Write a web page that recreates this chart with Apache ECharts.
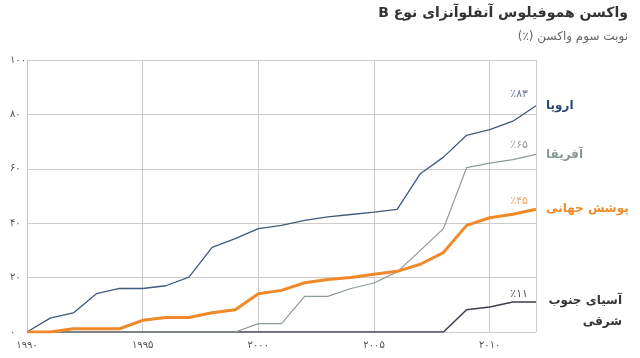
<!DOCTYPE html>
<html>
<head>
<meta charset="utf-8">
<script src="https://cdn.jsdelivr.net/npm/echarts@6/dist/echarts.min.js"></script>
<style>html,body{margin:0;padding:0;background:#fff}#c{width:640px;height:358px}</style>
</head>
<body>
<div id="c"></div>
<script>
var years = [1990,1991,1992,1993,1994,1995,1996,1997,1998,1999,2000,2001,2002,2003,2004,2005,2006,2007,2008,2009,2010,2011,2012];
var europe = [0,5.1,7.0,14.1,16.0,16.0,17.0,20.2,31.1,34.3,38.0,39.2,41.0,42.3,43.2,44.1,45.1,58.2,64.3,72.3,74.4,77.5,83.2];
var africa = [0,0,0,0,0,0,0,0,0,0,3.1,3.1,13.1,13.1,16.0,18.0,22.1,30.0,38.0,60.4,62.1,63.4,65.3];
var globalCov = [0,0,1.2,1.2,1.2,4.3,5.3,5.3,7.1,8.2,14.1,15.3,18.1,19.3,20.0,21.2,22.3,24.9,29.2,39.2,42.0,43.3,45.1];
var seAsia = [0,0,0,0,0,0,0,0,0,0,0,0,0,0,0,0,0,0,0,8.2,9.2,11.0,11.0];
var seriesNames = ['اروپا','آفریقا','پوشش جهانی','آسیای جنوب\nشرقی'];
var titleText = 'واکسن هموفیلوس آنفلوآنزای نوع B';
var subtitleText = 'نوبت سوم واکسن (٪)';
var faDigits = ['۰','۱','۲','۳','۴','۵','۶','۷','۸','۹'];

function fa(n){ return String(n).replace(/\d/g, function(d){ return faDigits[+d]; }); }
function rtl(s){ return '\u202B' + s + '\u202C'; }
function pairs(arr){ return years.map(function(y,i){ return [y, arr[i]]; }); }
var FONT = 'DejaVu Sans';

function mk(name, arr, color, width, labelColor, pctColor, endOpts, pctDy, z){
  var last = arr[arr.length-1];
  return {
    type:'line', name:name, data:pairs(arr), showSymbol:false, symbol:'none', z:z,
    lineStyle:{color:color, width:width}, itemStyle:{color:color},
    endLabel: Object.assign({show:true, formatter:function(){return name;}, color:labelColor,
      fontFamily:FONT, fontSize:12, fontWeight:'bold', distance:10, lineHeight:21}, endOpts||{}),
    markPoint:{
      symbol:'circle', symbolSize:0, silent:true,
      data:[{coord:[years[years.length-1], last]}],
      label:{show:true, formatter:'٪'+fa(Math.round(last)), position:[-8, pctDy], align:'right', verticalAlign:'middle',
        color:pctColor, fontFamily:FONT, fontSize:11}
    }
  };
}

var chart = echarts.init(document.getElementById('c'), null, {renderer:'canvas'});
chart.setOption({
  animation:false,
  title:[
    {text:rtl(titleText), right:12, top:6, padding:0,
      textStyle:{fontFamily:FONT, fontSize:14, fontWeight:'bold', color:'#333'}},
    {text:rtl(subtitleText), right:12, top:31, padding:0,
      textStyle:{fontFamily:FONT, fontSize:12, fontWeight:'normal', color:'#666'}}
  ],
  grid:{left:27, right:104, top:60, bottom:26},
  xAxis:{type:'value', min:1990, max:2012, interval:5,
    axisLine:{show:false}, axisTick:{show:false},
    splitLine:{show:true, lineStyle:{color:'#cccccc', width:1}},
    axisLabel:{formatter:function(v){ return v%5===0 ? fa(v) : ''; }, color:'#555', fontFamily:FONT, fontSize:10, margin:8, showMaxLabel:false}},
  yAxis:{type:'value', min:0, max:100, interval:20,
    axisLine:{show:false}, axisTick:{show:false},
    splitLine:{show:true, lineStyle:{color:'#cccccc', width:1}},
    axisLabel:{formatter:function(v){ return fa(v); }, color:'#555', fontFamily:FONT, fontSize:10, align:'left', margin:17}},
  series:[
    mk(seriesNames[3], seAsia, '#3d3d4d', 1.5, '#333333', '#555555', {align:'right', offset:[76, 9]}, -8, 2),
    mk(seriesNames[1], africa, '#8c9c90', 1.2, '#8a9a8c', '#9aa29c', null, -9, 3),
    mk(seriesNames[0], europe, '#3f5a7e', 1.3, '#2f4a70', '#6a7f99', null, -12, 4),
    mk(seriesNames[2], globalCov, '#f0892a', 3, '#f08a2a', '#f4a867', null, -8, 5)
  ]
});
</script>
</body>
</html>
